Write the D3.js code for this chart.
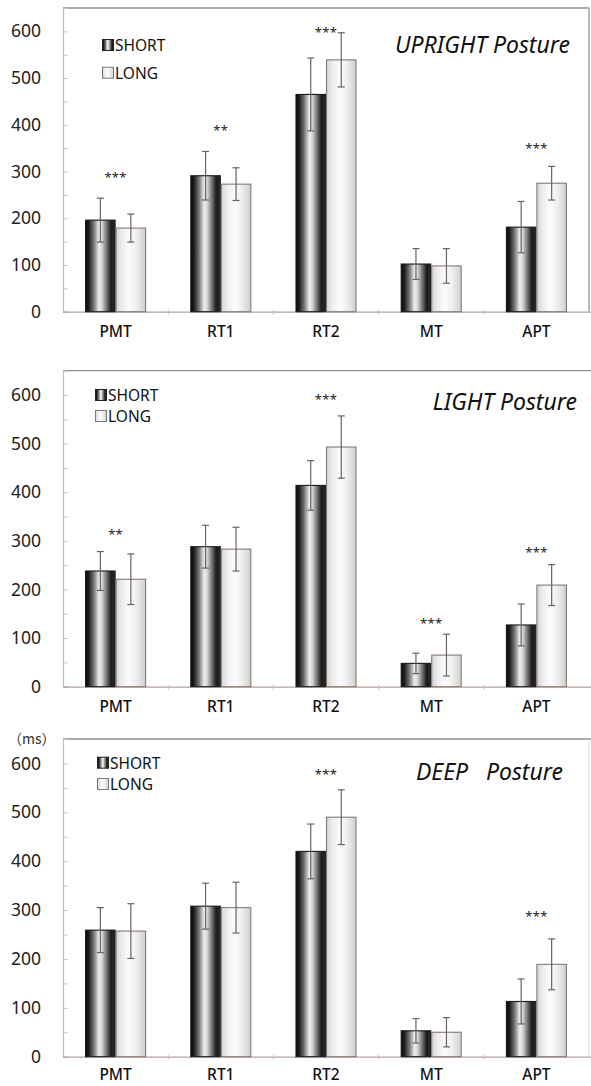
<!DOCTYPE html>
<html><head><meta charset="utf-8">
<script src="https://cdn.jsdelivr.net/npm/d3@7"></script>
<style>body{margin:0;background:#fff}svg{display:block}text{font-family:"Noto Sans",sans-serif}</style>
</head><body>
<svg id="c" width="591" height="1086"></svg>
<script>
const categories = ["PMT","RT1","RT2","MT","APT"];
const seriesNames = ["SHORT","LONG"];
const titles = ["UPRIGHT Posture","LIGHT Posture","DEEP   Posture"];
const yTicks = [0,100,200,300,400,500,600];

const uprightShort   = [196,291,465,102,181];
const uprightShortSD = [47,52,78,33,55];
const uprightLong    = [179,273,539,98,275];
const uprightLongSD  = [30,35,58,37,36];
const uprightSig     = ["***","**","***","","***"];
const uprightSigAt   = [293,394,603,null,355];

const lightShort   = [238,288,414,48,127];
const lightShortSD = [40,44,51,21,43];
const lightLong    = [221,283,493,65,209];
const lightLongSD  = [52,45,64,43,42];
const lightSig     = ["**","","***","***","***"];
const lightSigAt   = [319,null,597,137,283];

const deepShort   = [259,308,420,53,113];
const deepShortSD = [46,47,56,25,46];
const deepLong    = [257,305,490,50,189];
const deepLongSD  = [56,52,56,30,52];
const deepSig     = ["","","***","","***"];
const deepSigAt   = [null,null,583,null,293];

const panelData = [
  {short:uprightShort, shortSD:uprightShortSD, long:uprightLong, longSD:uprightLongSD, sig:uprightSig, sigAt:uprightSigAt},
  {short:lightShort, shortSD:lightShortSD, long:lightLong, longSD:lightLongSD, sig:lightSig, sigAt:lightSigAt},
  {short:deepShort, shortSD:deepShortSD, long:deepLong, longSD:deepLongSD, sig:deepSig, sigAt:deepSigAt}
];
// layout
const layout = [
  {top:8, base:311.7, legX:102, legY:[45,72.7], titleY:53, rightBorder:"#8a8a8a", xPad:14},
  {top:370.7, base:686.7, legX:95, legY:[395,416], titleY:410, rightBorder:null, xPad:14},
  {top:739, base:1056.7, legX:97, legY:[762.7,784], titleY:780, rightBorder:"#e2e2e2", xPad:12}
];
const titleRight = [570, 577, 563];
const left = 63, right = 589;

const svg = d3.select("#c");
const defs = svg.append("defs");
function grad(id, stops){
  const g = defs.append("linearGradient").attr("id",id).attr("x1","0").attr("x2","1").attr("y1","0").attr("y2","0");
  stops.forEach(s=>g.append("stop").attr("offset",s[0]).attr("stop-color",s[1]));
}
grad("gShort",[[0,"#0a0a0a"],[0.1,"#1a1a1a"],[0.28,"#777"],[0.45,"#ececec"],[0.55,"#d8d8d8"],[0.72,"#707070"],[0.86,"#1c1c1c"],[1,"#2a2a2a"]]);
grad("gLong",[[0,"#d4d4d4"],[0.2,"#ededed"],[0.45,"#fcfcfc"],[0.7,"#eeeeee"],[1,"#cfcfcf"]]);

const x = d3.scaleBand().domain(categories).range([left,right]).paddingInner(0).paddingOuter(0);
const barW = 30.5;
const errColor = "#6e625c";

panelData.forEach((pd,pi)=>{
  const L = layout[pi];
  const y = d3.scaleLinear().domain([0,650]).range([L.base,L.top]);
  const g = svg.append("g");

  // frame top
  g.append("line").attr("x1",left).attr("x2",pi===0?right:591).attr("y1",y(650)).attr("y2",y(650)).attr("stroke","#8f8f8f").attr("stroke-width",1.3);
  if(L.rightBorder) g.append("line").attr("x1",right).attr("x2",right).attr("y1",y(650)).attr("y2",y(0)).attr("stroke",L.rightBorder).attr("stroke-width",1.2);

  // y axis
  const yAxis = d3.axisRight(y).tickValues(d3.range(0,651,50)).tickSize(5).tickFormat("");
  const ya = g.append("g").attr("transform",`translate(${left},0)`).call(yAxis);
  ya.select(".domain").attr("stroke","#c4bdb9").attr("stroke-width",1.2);
  ya.selectAll(".tick line").attr("stroke","#c8c8c8");
  // y labels
  const yl = d3.axisLeft(y).tickValues(yTicks).tickSize(0).tickPadding(22).tickFormat(d3.format("d"));
  const yla = g.append("g").attr("transform",`translate(${left},0)`).call(yl);
  yla.select(".domain").remove();
  yla.selectAll("text").attr("font-size",17.5).attr("fill","#222").style("font-family","'Noto Sans',sans-serif");

  // x axis
  const xAxis = d3.axisBottom(x).tickSize(0).tickPadding(L.xPad);
  const xa = g.append("g").attr("transform",`translate(0,${y(0)})`).call(xAxis);
  xa.select(".domain").attr("stroke","#b3a39b").attr("stroke-width",1.2).attr("d",`M${left},0.5H591`);
  xa.selectAll("text").attr("font-size",15.5).attr("fill","#111").attr("font-weight",500).style("font-family","'Noto Sans',sans-serif");
  // category boundary ticks
  g.selectAll(".bt").data(categories.slice(1)).join("line")
    .attr("x1",d=>x(d)).attr("x2",d=>x(d)).attr("y1",y(0)-2).attr("y2",y(0)+3)
    .attr("stroke","#c8c0bb");

  // bars
  const series = [
    {vals:pd.short, sd:pd.shortSD, fill:"url(#gShort)", stroke:"#1a1a1a", off:-barW},
    {vals:pd.long, sd:pd.longSD, fill:"url(#gLong)", stroke:"#857a74", off:0}
  ];
  series.forEach(s=>{
    categories.forEach((c,i)=>{
      const cx = x(c)+x.bandwidth()/2 + s.off;
      g.append("rect").attr("x",cx+0.5).attr("y",y(s.vals[i])).attr("width",barW-1).attr("height",y(0)-y(s.vals[i]))
        .attr("fill",s.fill).attr("stroke",s.stroke).attr("stroke-width",1.1);
    });
    categories.forEach((c,i)=>{
      const ex = x(c)+x.bandwidth()/2 + s.off + barW/2;
      const t = y(s.vals[i]+s.sd[i]), b = y(s.vals[i]-s.sd[i]);
      g.append("line").attr("x1",ex).attr("x2",ex).attr("y1",t).attr("y2",b).attr("stroke",errColor).attr("stroke-width",1.2);
      [t,b].forEach(yy=>g.append("line").attr("x1",ex-3.5).attr("x2",ex+3.5).attr("y1",yy).attr("y2",yy).attr("stroke",errColor).attr("stroke-width",1.2));
    });
  });

  // significance
  categories.forEach((c,i)=>{
    if(!pd.sig[i]) return;
    g.append("text").attr("x",x(c)+x.bandwidth()/2).attr("y",y(pd.sigAt[i])+7.5)
      .attr("text-anchor","middle").attr("font-size",13).attr("fill","#222").attr("letter-spacing",0.3).text(pd.sig[i]);
  });

  // legend
  seriesNames.forEach((n,k)=>{
    const cy = L.legY[k];
    g.append("rect").attr("x",L.legX+0.5).attr("y",cy-5.5).attr("width",11).attr("height",11)
      .attr("fill",k===0?"url(#gShort)":"url(#gLong)").attr("stroke",k===0?"#222":"#777");
    g.append("text").attr("x",L.legX+13).attr("y",cy+5.8).attr("font-size",15.5).attr("fill","#111").text(n);
  });

  // title
  g.append("text").attr("x",titleRight[pi]).attr("y",L.titleY).attr("text-anchor","end").attr("font-size",23).attr("font-style","italic")
    .attr("fill","#111").attr("xml:space","preserve").style("white-space","pre").text(titles[pi]);
});

svg.append("text").attr("x",8).attr("y",744).attr("font-size",14).attr("fill","#333")
  .style("font-family","'Noto Sans CJK JP','Noto Sans',sans-serif").text("（ms）");
</script>
</body></html>
